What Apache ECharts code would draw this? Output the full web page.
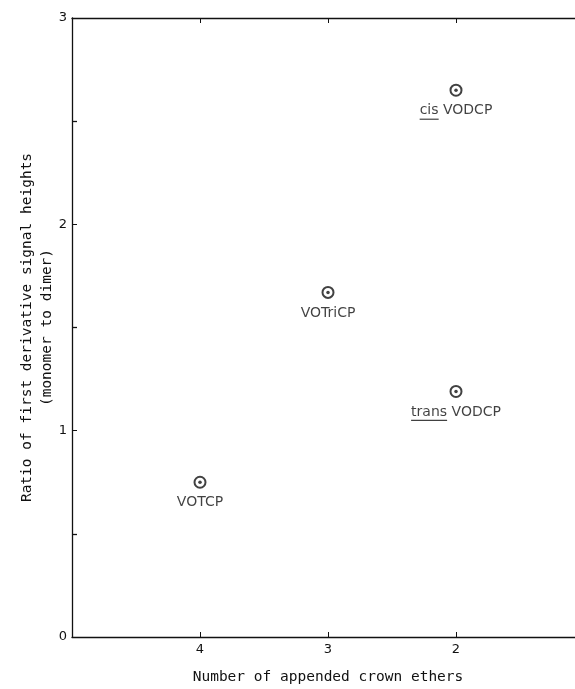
<!DOCTYPE html>
<html><head><meta charset="utf-8">
<script src="https://cdn.jsdelivr.net/npm/echarts@6/dist/echarts.min.js"></script>
<style>html,body{margin:0;padding:0;background:#fff;overflow:hidden}#c{width:575px;height:689px}</style>
</head><body><div id="c"></div>
<script>
// ---- data ----
const compounds = ['VOTCP', 'VOTriCP', 'cis VODCP', 'trans VODCP'];
const crownEthers = [4, 3, 2, 2];
const ratios = [0.75, 1.67, 2.65, 1.19];
const xTickLabels = [4, 3, 2];
const yTickLabels = [0, 1, 2, 3];
const xTitle = 'Number of appended crown ethers';
const yTitle = 'Ratio of first derivative signal heights\n(monomer to dimer)';

const FONT = '"DejaVu Sans", sans-serif';
const TFONT = '"DejaVu Sans Mono", monospace';
const INK = '#111';
const labelSize = 14;

const ctx = document.createElement('canvas').getContext('2d');
ctx.font = labelSize + 'px "DejaVu Sans"';
const w = s => Math.round(ctx.measureText(s).width);

const points = compounds.map((n, i) => [crownEthers[i], ratios[i], n]);

const rich = {
  t: {fontSize: labelSize, fontFamily: FONT, color: INK, align: 'left', lineHeight: 14},
  sp: {fontSize: labelSize, fontFamily: FONT, color: INK, align: 'left', lineHeight: 14},
  line_cis: {width: w('cis'), height: 1.2, lineHeight: 3, backgroundColor: INK, align: 'left'},
  line_trans: {width: w('trans'), height: 1.2, lineHeight: 3, backgroundColor: INK, align: 'left'}
};

function labelText(p) {
  const name = p.data[2];
  const m = name.match(/^(cis|trans) (.*)$/);
  if (m) return '{t|' + m[1] + '}{sp| }{t|' + m[2] + '}\n{line_' + m[1] + '|}';
  return '{t|' + name + '}';
}

const axisLineStyle = {color: INK, width: 1.3};

const chart = echarts.init(document.getElementById('c'), null, {renderer: 'canvas'});
chart.setOption({
  animation: false,
  backgroundColor: '#fff',
  grid: {left: 72, top: 18, width: 512, height: 619, outerBoundsMode: 'none', containLabel: false},
  xAxis: [{
    type: 'value', inverse: true, min: 1, max: 5, interval: 1, position: 'bottom',
    axisLine: {show: true, onZero: false, lineStyle: axisLineStyle},
    axisTick: {show: true, inside: true, length: 5, lineStyle: {color: INK, width: 1}},
    axisLabel: {
      formatter: v => xTickLabels.includes(v) ? String(v) : '',
      color: INK, fontSize: 13, fontFamily: FONT, margin: 6
    },
    splitLine: {show: false},
    name: xTitle, nameLocation: 'middle', nameGap: 33, nameMoveOverlap: false,
    nameTextStyle: {color: INK, fontSize: 14.5, fontFamily: TFONT}
  }, {
    type: 'value', inverse: true, min: 1, max: 5, interval: 1, position: 'top',
    axisLine: {show: true, onZero: false, lineStyle: axisLineStyle},
    axisTick: {show: true, inside: true, length: 5, lineStyle: {color: INK, width: 1}},
    axisLabel: {show: false},
    splitLine: {show: false}
  }],
  yAxis: {
    type: 'value', min: 0, max: 3, interval: 1,
    axisLine: {show: true, onZero: false, lineStyle: axisLineStyle},
    axisTick: {show: true, inside: true, length: 5, lineStyle: {color: INK, width: 1}},
    minorTick: {show: true, splitNumber: 2, length: 5, lineStyle: {color: INK, width: 1.3}},
    axisLabel: {
      formatter: v => yTickLabels.includes(v) ? String(v) : '',
      color: INK, fontSize: 13, fontFamily: FONT, margin: 5
    },
    splitLine: {show: false},
    minorSplitLine: {show: false},
    name: yTitle, nameLocation: 'middle', nameRotate: 90, nameGap: 15, nameMoveOverlap: false,
    nameTextStyle: {color: INK, fontSize: 14.5, fontFamily: TFONT, lineHeight: 20, align: 'center'}
  },
  series: [{
    type: 'scatter', xAxisIndex: 0, data: points,
    symbol: 'emptyCircle', symbolSize: 11,
    itemStyle: {color: INK, borderColor: INK, borderWidth: 1},
    label: {show: true, position: 'bottom', distance: 7, formatter: labelText, rich: rich,
            color: INK, fontSize: labelSize, fontFamily: FONT},
    emphasis: {disabled: true},
    clip: false, z: 3
  }, {
    type: 'scatter', xAxisIndex: 0, data: points,
    symbol: 'circle', symbolSize: 3.5,
    itemStyle: {color: INK},
    emphasis: {disabled: true},
    clip: false, z: 4
  }]
});
</script>
</body></html>
